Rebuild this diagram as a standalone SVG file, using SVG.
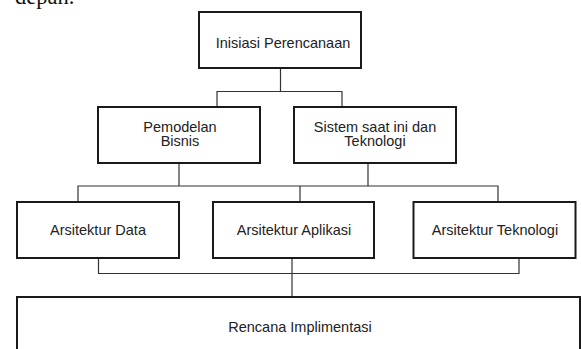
<svg xmlns="http://www.w3.org/2000/svg" width="581" height="349" viewBox="0 0 581 349">
<style>
.box{fill:#fff;stroke:#1a1a1a;stroke-width:2}
.lbl{font-family:"Liberation Sans",Arial,sans-serif;font-size:14.5px;fill:#222;text-anchor:middle}
.con{fill:none;stroke:#333;stroke-width:1.2}
</style>
<rect width="581" height="349" fill="#fff"/>
<text x="15" y="4" font-family="Liberation Serif,serif" font-size="22.5" fill="#111">depan.</text>
<g id="connectors">
<path class="con" d="M280.5 68V91.5M217 107V91.5H342V107"/>
<path class="con" d="M179 163V186M368 163V186M78 202V186H498V202M300 186V202"/>
<path class="con" d="M98.5 258V273.5H519V258M292 258V297"/>
</g>
<g id="inisiasi"><rect class="box" x="199" y="12" width="162" height="56"/><text class="lbl" x="283" y="48">Inisiasi Perencanaan</text></g>
<g id="pemodelan"><rect class="box" x="98" y="107" width="162" height="56"/><text class="lbl" x="180" y="131.5">Pemodelan</text><text class="lbl" x="180" y="146">Bisnis</text></g>
<g id="sistem"><rect class="box" x="294" y="107" width="162" height="56"/><text class="lbl" x="375" y="131.5">Sistem saat ini dan</text><text class="lbl" x="375" y="146">Teknologi</text></g>
<g id="data"><rect class="box" x="17" y="202" width="162" height="56"/><text class="lbl" x="98" y="235">Arsitektur Data</text></g>
<g id="aplikasi"><rect class="box" x="213" y="202" width="161" height="56"/><text class="lbl" x="294" y="235">Arsitektur Aplikasi</text></g>
<g id="teknologi"><rect class="box" x="413.5" y="202" width="162" height="56"/><text class="lbl" x="495" y="235">Arsitektur Teknologi</text></g>
<g id="rencana"><rect class="box" x="17" y="297" width="563" height="70"/><text class="lbl" x="300" y="332">Rencana Implimentasi</text></g>
</svg>
